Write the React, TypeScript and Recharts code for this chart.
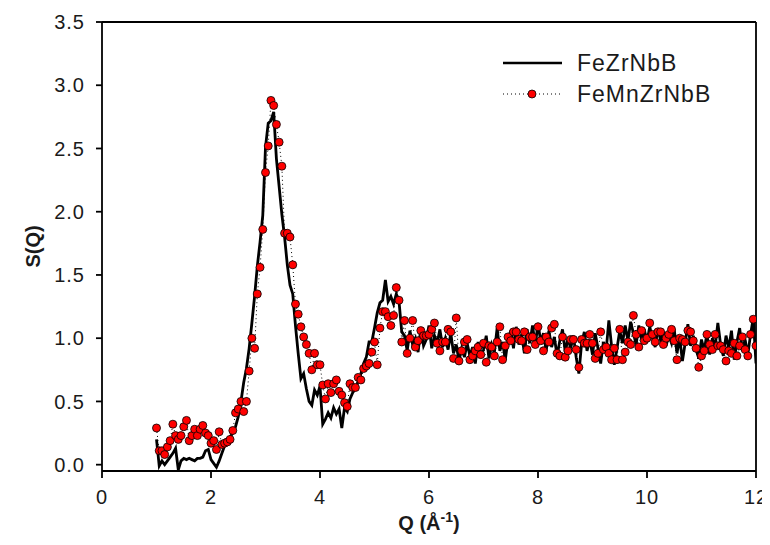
import {
  Label,
  Line,
  LineChart,
  ReferenceLine,
  XAxis,
  YAxis,
} from "recharts";

const FONT = "'Liberation Sans', Arial, sans-serif";

// sampling grid of the measured curves, Q from 1.00 to 12.00 Å^-1 every 0.05
const qGrid = Array.from({ length: 221 }, (_, i) => Math.round((1 + i * 0.05) * 100) / 100);

// S(Q) values, one row per unit of Q
const feZrNbB = [
  0.20, -0.01, 0.03, 0.00, 0.03, 0.06, 0.09, 0.13, -0.04, 0.03, 0.05, 0.04, 0.05, 0.04, 0.03, 0.05, 0.05, 0.06, 0.11, 0.12,
  0.04, 0.01, -0.02, 0.03, 0.09, 0.15, 0.19, 0.22, 0.25, 0.30, 0.38, 0.50, 0.65, 0.76, 0.92, 1.12, 1.33, 1.57, 1.76, 1.97,
  2.51, 2.70, 2.72, 2.79, 2.42, 2.20, 1.98, 1.80, 1.58, 1.42, 1.35, 1.10, 0.88, 0.68, 0.72, 0.60, 0.50, 0.47, 0.59, 0.55,
  0.62, 0.32, 0.36, 0.41, 0.37, 0.45, 0.40, 0.44, 0.29, 0.45, 0.42, 0.52, 0.57, 0.60, 0.66, 0.72, 0.80, 0.85, 0.97, 0.97,
  1.08, 1.20, 1.28, 1.30, 1.46, 1.29, 1.33, 1.27, 1.35, 1.29, 1.05, 1.02, 0.90, 1.06, 0.95, 1.00, 0.89, 1.08, 0.94, 0.99,
  1.10, 0.92, 1.02, 0.96, 1.07, 0.93, 1.00, 0.91, 1.04, 0.88, 0.95, 0.82, 0.92, 0.85, 0.96, 0.86, 0.93, 0.80, 0.97, 0.87,
  0.91, 1.02, 0.84, 0.95, 0.89, 1.08, 0.90, 0.97, 0.83, 0.99, 1.06, 0.92, 1.09, 0.95, 1.03, 0.88, 1.07, 0.96, 1.10, 0.94,
  1.12, 0.97, 1.04, 0.90, 1.06, 0.93, 1.01, 0.86, 0.98, 1.07, 0.89, 1.00, 0.92, 1.02, 0.85, 0.72, 0.96, 1.05, 0.90, 0.99,
  0.87, 1.04, 0.92, 0.80, 0.97, 0.90, 1.14, 0.94, 0.79, 0.92, 1.06, 0.96, 1.10, 0.98, 1.13, 1.04, 0.95, 1.10, 0.99, 1.07,
  0.97, 1.09, 1.00, 0.93, 1.08, 0.98, 1.05, 0.94, 1.02, 0.96, 1.07, 0.88, 1.00, 0.82, 0.96, 1.11, 0.94, 1.02, 0.91, 0.84,
  0.99, 0.90, 1.04, 0.87, 1.00, 0.93, 1.12, 0.95, 0.86, 1.02, 0.92, 1.06, 0.83, 0.97, 1.08, 0.90, 0.99, 0.87, 1.03, 1.16,
  0.80,
];

const feMnZrNbB = [
  0.29, 0.11, 0.11, 0.08, 0.14, 0.19, 0.32, 0.23, 0.20, 0.23, 0.30, 0.35, 0.19, 0.23, 0.28, 0.23, 0.28, 0.31, 0.25, 0.23,
  0.17, 0.19, 0.12, 0.26, 0.16, 0.17, 0.18, 0.20, 0.27, 0.41, 0.44, 0.50, 0.42, 0.50, 0.74, 1.00, 0.92, 1.35, 1.56, 1.86,
  2.31, 2.52, 2.88, 2.84, 2.69, 2.55, 2.36, 1.83, 1.83, 1.80, 1.58, 1.27, 1.19, 1.09, 1.01, 0.95, 0.88, 0.75, 0.88, 0.79,
  0.79, 0.63, 0.52, 0.64, 0.57, 0.64, 0.67, 0.58, 0.55, 0.49, 0.46, 0.64, 0.61, 0.61, 0.69, 0.67, 0.76, 0.78, 0.80, 0.89,
  0.97, 0.79, 1.08, 1.21, 1.21, 1.17, 1.10, 1.18, 1.40, 1.30, 0.97, 1.14, 0.88, 1.00, 1.14, 0.93, 0.98, 1.06, 1.02, 1.02,
  1.03, 1.07, 1.12, 0.96, 0.90, 0.97, 0.97, 1.07, 1.05, 0.84, 1.16, 0.82, 0.90, 0.97, 0.99, 0.83, 0.86, 0.90, 0.93, 0.87,
  0.96, 0.81, 0.94, 0.93, 0.86, 0.97, 1.09, 0.83, 0.94, 1.01, 0.98, 1.05, 1.05, 0.99, 0.98, 1.05, 0.91, 1.01, 1.01, 0.95,
  1.09, 0.98, 0.90, 1.01, 0.97, 1.08, 1.11, 0.88, 0.86, 1.01, 0.85, 0.90, 0.99, 0.99, 0.91, 0.77, 0.99, 0.96, 0.96, 1.03,
  0.96, 0.84, 0.88, 1.05, 0.91, 0.93, 0.88, 0.83, 0.92, 0.83, 1.07, 0.83, 0.89, 0.97, 0.95, 1.18, 1.03, 0.93, 1.06, 0.98,
  1.00, 1.12, 1.03, 0.97, 1.05, 1.05, 0.95, 1.00, 1.03, 1.07, 0.98, 0.83, 1.00, 0.99, 0.97, 1.06, 1.05, 0.98, 0.92, 0.77,
  0.86, 0.90, 1.03, 0.95, 0.91, 1.03, 0.94, 0.94, 0.91, 0.82, 0.90, 0.88, 0.96, 0.86, 0.94, 1.01, 0.91, 0.86, 1.03, 1.15,
  0.94,
];

const xTicks = [0, 2, 4, 6, 8, 10, 12];
const yTicks = [0, 0.5, 1, 1.5, 2, 2.5, 3, 3.5];
const seriesNames = ["FeZrNbB", "FeMnZrNbB"];

const data = qGrid.map((q, i) => ({
  q,
  a: feZrNbB[i],
  b: feMnZrNbB[i],
}));

const tickStyle = { fontFamily: FONT, fontSize: 20, fill: "#1a1a1a", letterSpacing: 1 };

function XTitle(props: any) {
  const vb = props.viewBox;
  const cx = vb.x + vb.width / 2;
  return (
    <text
      x={cx}
      y={vb.y + 59}
      textAnchor="middle"
      fontFamily={FONT}
      fontWeight="bold"
      fontSize={20}
      fill="#1a1a1a"
    >
      <tspan>Q (Å</tspan>
      <tspan dy={-8} fontSize={14}>-1</tspan>
      <tspan dy={8}>)</tspan>
    </text>
  );
}

function YTitle(props: any) {
  const vb = props.viewBox;
  const cy = vb.y + vb.height / 2;
  return (
    <text
      x={25}
      y={cy}
      transform={`rotate(-90 25 ${cy})`}
      textAnchor="middle"
      dominantBaseline="central"
      fontFamily={FONT}
      fontWeight="bold"
      fontSize={20}
      fill="#1a1a1a"
    >
      S(Q)
    </text>
  );
}

function LegendBox() {
  return (
    <svg
      width={762}
      height={120}
      style={{ position: "absolute", left: 0, top: 0, pointerEvents: "none" }}
    >
      <line x1={495} x2={554} y1={55} y2={55} stroke="#000" strokeWidth={2.6} />
      <text x={569} y={55} dominantBaseline="central" fontFamily={FONT} fontSize={23} fill="#1a1a1a" letterSpacing={1}>
        {seriesNames[0]}
      </text>
      <line x1={495} x2={553} y1={86} y2={86} stroke="#000" strokeWidth={1} strokeDasharray="1 3" />
      <circle cx={524} cy={86} r={4} fill="#ff0000" stroke="#000" strokeWidth={0.8} />
      <text x={569} y={86} dominantBaseline="central" fontFamily={FONT} fontSize={23} fill="#1a1a1a" letterSpacing={1}>
        {seriesNames[1]}
      </text>
    </svg>
  );
}

export default function App() {
  return (
    <div style={{ position: "relative", width: 762, height: 530 }}>
      <LineChart
        width={762}
        height={530}
        data={data}
        margin={{ top: 14, right: 14, left: 0, bottom: 37 }}
      >
        <XAxis
          dataKey="q"
          type="number"
          domain={[0, 12]}
          ticks={xTicks}
          interval={0}
          allowDataOverflow
          height={30}
          stroke="#000"
          strokeWidth={1.8}
          tickSize={7}
          tickMargin={12}
          tick={tickStyle}
        >
          <Label content={XTitle} />
        </XAxis>
        <YAxis
          type="number"
          domain={[-0.05, 3.5]}
          ticks={yTicks}
          interval={0}
          allowDataOverflow
          width={94}
          stroke="#000"
          strokeWidth={1.8}
          tickSize={6}
          tickMargin={11}
          tick={tickStyle}
          tickFormatter={(v: number) => v.toFixed(1)}
        >
          <Label content={YTitle} />
        </YAxis>
        <ReferenceLine y={3.5} stroke="#000" strokeWidth={1.8} />
        <ReferenceLine x={12} stroke="#000" strokeWidth={1.8} />
        <Line
          type="linear"
          dataKey="a"
          name={seriesNames[0]}
          stroke="#000"
          strokeWidth={2.8}
          dot={false}
          isAnimationActive={false}
        />
        <Line
          type="linear"
          dataKey="b"
          name={seriesNames[1]}
          stroke="#000"
          strokeWidth={1}
          strokeDasharray="1 3"
          dot={{ r: 4, fill: "#ff0000", stroke: "#000", strokeWidth: 0.8, strokeDasharray: "" }}
          isAnimationActive={false}
        />
      </LineChart>
      <LegendBox />
    </div>
  );
}
